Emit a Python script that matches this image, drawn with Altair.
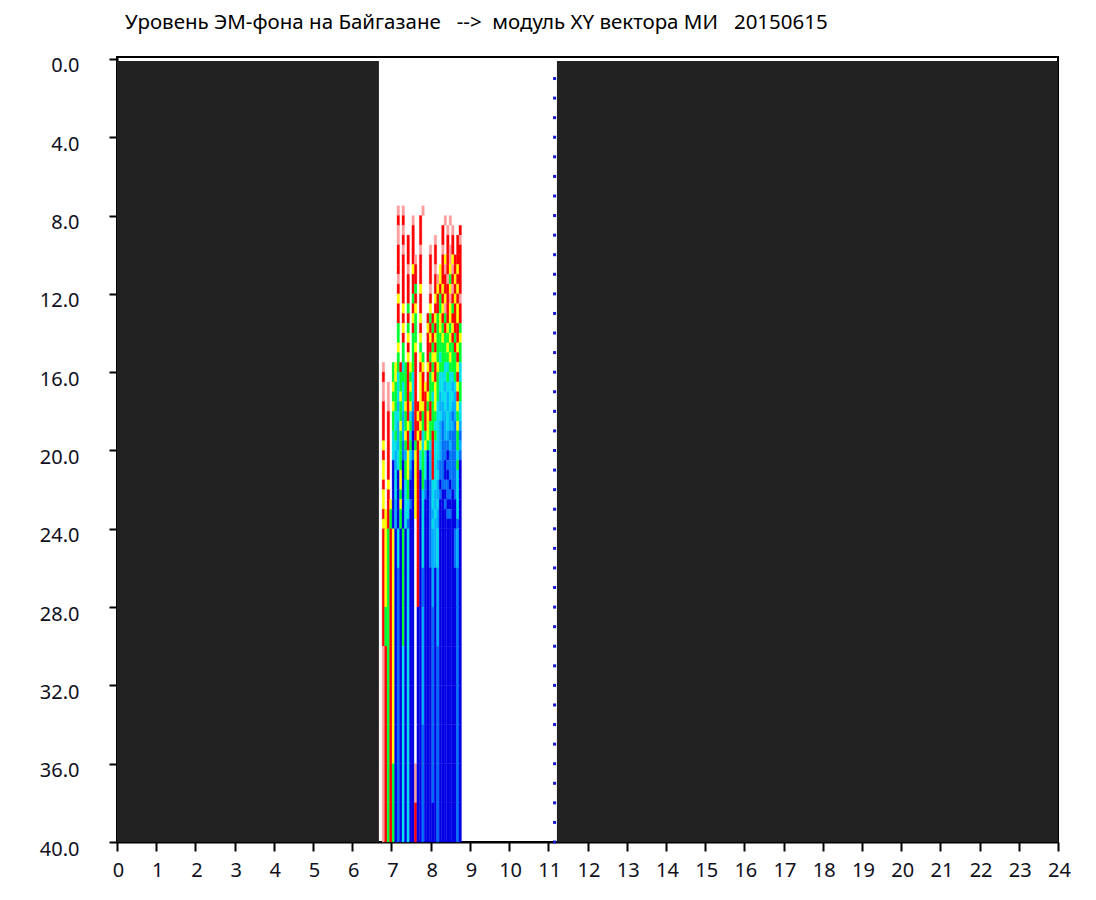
import altair as alt
import pandas as pd

TITLE = ("Уровень\u00a0ЭМ-фона на Байгазане\u00a0\u00a0\u00a0-->\u00a0\u00a0модуль XY вектора МИ"
         "\u00a0\u00a0\u00a020150615")

x_ticks = list(range(0, 25))
y_ticks = [0, 4, 8, 12, 16, 20, 24, 28, 32, 36, 40]
minor_y = list(range(1, 41))
minor_x = [11.16] * len(minor_y)

dark_x0 = [0.0, 11.22]
dark_x1 = [6.68, 24.0]
dark_y0 = [0.1, 0.1]
dark_y1 = [40.0, 40.0]

strip_start = 6.70
strip_width = 0.0632

row_tops = [7.5, 8, 8.5, 9, 9.5, 10, 10.5, 11, 11.5, 12, 12.5, 13, 13.5, 14, 14.5, 15, 15.5,
            16, 16.5, 17, 17.5, 18, 18.5, 19, 19.5, 20, 20.5, 21, 21.5, 22, 22.5, 23, 23.5,
            24, 26, 28, 30, 32, 34, 36, 38]
row_bottoms = row_tops[1:] + [40]

rows = [
    ".......P.P.......P...............",
    ".......R.R...P..R.........P.P....",
    ".......P.P...R..R........R.P.P..R",
    ".......P.R.R.R..R.....P..R.R.R.RP",
    ".......R.P.R.R..P...P.R..P.RPR.RR",
    ".......R.R.R.RP.R...R.R..RYRPYRRR",
    ".......R.R.P.YR.R...R.P.YRPRYPRYR",
    ".......P.R.R.RR.R...R.RPYRRPGRYRR",
    ".......R.R.R.RG.Y...P.RYRYRRYPRYR",
    ".......Y.R.R.GR.R...R.YRGRYRPRYRP",
    ".......R.Y.G.RY.R...Y.RRGYPRYGRYR",
    ".......R.R.R.YG.Y..RGRYGYRGRYRRYR",
    ".......G.Y.G.RG.R..YRGRGYGRYGYRRG",
    ".......G.R.Y.GG.Y..RYRYGGYGGYRGRY",
    ".......Y.G.R.GY.G..RRGRGGGGYGGRYG",
    ".......G.G.Y.GR.YG.RGYYGCGGGYGGRG",
    ".P...GYGRCGRYGR.RY.YRGRYGGCCGGGYC",
    ".R...GYCGGGRGCR.YR.RGYRGCCCGCCGRC",
    ".P.P.YGCGCGRYCR.YRYRGGYGCCLCCLCYG",
    ".P.P.GGCYCGRGCR.YRRYGCYGLCCLCCLRG",
    ".R.P.YGLGCYRYLRRYYRGRGYCLLCLCLLYC",
    ".R.R.GCCGLGRCARYRGRYRGGCCLLCLALGC",
    ".R.R.GCLYLGYGARRYGRYGGCCLALCLLAYL",
    ".R.R.CGLGLYRCBRYRCGYGRGCLALLAAAGA",
    ".Y.R.CCLGAGRGBGRYCYGCRCCLAAALAAGL",
    ".R.R.CLCGALYCAYRCGCBLRCCLAABAAACA",
    ".Y.R.BLCGBGYLBYRCGCBLRCLAABAAAAGB",
    ".Y.R.BCBYBGYABYRBGCBLRCCAABBAAACB",
    ".R.Y.BCBYBCGBBYRBGABACCLBAAABAACB",
    ".Y.R.BCBGBCGBBYRBCABACLLABBAABACB",
    ".Y.RYBLBYBCCABYRBCBBACLCBBABBBBCB",
    ".RYRGBLBGBCCBBYRBCBBALCLBBBAABBCB",
    ".YYRGBLBGBCABBWRBCBBACLLBBBBBBBAB",
    ".RYGRYBCBGBCBBWRBCBBALLCBBBBBBALB",
    ".RYGRYBABGBCBBWRBABBBLBLBBBBBBBAB",
    ".RGGRYBABGBCBBWBBLBBBABLBBBBBBBAB",
    ".PRGRYBABCBCBBWBBLBBBABABBBBBBBAB",
    ".PRGRYBABCBCBBWBBLBBBABABBBBBBBAB",
    ".PRGRYBABCBCBBWBBABBBABABBBBBBBAB",
    ".PRGRGBABCBCBBPBBABBBABABBBBBBBAB",
    ".PRGRGBABCBCBBRBBABBBBBABBBBBBBAB",
]

palette = {
    "R": "#ff0000", "P": "#ff9c9c", "Y": "#ffff00", "G": "#00ff30",
    "C": "#00e0e8", "L": "#00b0ff", "A": "#0070f8", "B": "#0000e4", "W": "#ffffff",
}

records = []
for top, bottom, row in zip(row_tops, row_bottoms, rows):
    for i, ch in enumerate(row):
        if ch != ".":
            records.append({
                "x0": strip_start + i * strip_width,
                "x1": strip_start + (i + 1) * strip_width,
                "y0": top, "y1": bottom, "c": palette[ch],
            })
cells = pd.DataFrame(records)

dark = pd.DataFrame({"x0": dark_x0, "x1": dark_x1, "y0": dark_y0, "y1": dark_y1})
minor = pd.DataFrame({"x": minor_x, "y": minor_y})

FONT = "Noto Sans"
x_scale = alt.Scale(domain=[0, 24], nice=False, zero=False)
y_scale = alt.Scale(domain=[-0.1, 40], reverse=True, nice=False, zero=False)

x_enc = alt.X("x0:Q", scale=x_scale, axis=alt.Axis(
    values=x_ticks, tickCount=25, title=None, grid=False, format="d", tickColor="#000000", tickSize=9, tickWidth=2,
    domainColor="#000000", domainWidth=2, labelColor="#101020", labelFont=FONT, labelFontSize=20,
    labelPadding=9, labelAngle=0, labelOverlap=False, labelFlush=False, labelOffset=1))
y_enc = alt.Y("y0:Q", scale=y_scale, axis=alt.Axis(
    values=y_ticks, title=None, grid=False, format=".1f", tickColor="#000000", tickSize=8, tickWidth=2,
    domainColor="#000000", domainWidth=2, labelColor="#101020", labelFont=FONT, labelFontSize=20,
    labelPadding=30, labelOverlap=False, labelFlush=False, labelOffset=7))

dark_layer = alt.Chart(dark).mark_rect(color="#222222").encode(
    x=x_enc, x2="x1:Q", y=y_enc, y2="y1:Q")
cell_layer = alt.Chart(cells).mark_rect().encode(
    x="x0:Q", x2="x1:Q", y="y0:Q", y2="y1:Q",
    color=alt.Color("c:N", scale=None), stroke=alt.Color("c:N", scale=None),
    strokeWidth=alt.value(0.3))
minor_layer = alt.Chart(minor).mark_point(
    shape="square", filled=True, color="#1818d0", size=9, opacity=1
).encode(x="x:Q", y="y:Q")

chart = alt.layer(dark_layer, cell_layer, minor_layer).properties(
    width=941, height=785,
    background="#ffffff",
    padding={"left": 109, "top": 49, "right": 30, "bottom": 50},
    autosize=alt.AutoSizeParams(type="none"),
    title=alt.TitleParams(TITLE, anchor="start", font=FONT, fontSize=20.5, fontWeight="normal",
                          color="#000000", dx=8, offset=22, frame="group"),
).configure_view(stroke="#000000", strokeWidth=2)

chart.save("out.html", embed_options={"renderer": "svg", "actions": False})
